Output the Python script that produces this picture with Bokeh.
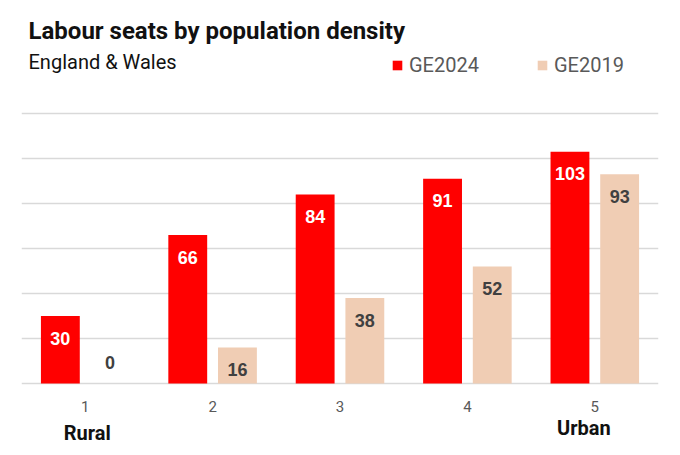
from bokeh.plotting import figure
from bokeh.models import (ColumnDataSource, Label, Legend, LegendItem,
                          FixedTicker, Range1d)
from bokeh.transform import dodge
from bokeh.core.properties import value
from bokeh.embed import file_html
from bokeh.resources import INLINE

# ---- data ----
categories = [1, 2, 3, 4, 5]
tick_labels = ["1", "2", "3", "4", "5"]
ge2024 = [30, 66, 84, 91, 103]
ge2019 = [0, 16, 38, 52, 93]
series_names = ["GE2024", "GE2019"]
end_labels = ["Rural", "Urban"]
grid_values = [0, 20, 40, 60, 80, 100, 120]
title_text = "Labour seats by population density"
subtitle_text = "England & Wales"

RED = "#FF0000"
PEACH = "#F0CDB4"
GRID = "#D9D9D9"
DARK = "#404040"
GRAY = "#595959"

W, H = 672, 447
FRAME_L, FRAME_R = 21, 658
BASE_Y = 383          # pixel row of the zero line
PX_PER_UNIT = 2.25

src = ColumnDataSource(dict(
    x=categories,
    a=ge2024,
    b=ge2019,
    zero=[0] * len(categories),
    ticks=tick_labels,
    a_lab=[str(v) for v in ge2024],
    b_lab=[str(v) for v in ge2019],
    a_off=[22 if v > 0 else -21 for v in ge2024],
    b_off=[22 if v > 0 else -21 for v in ge2019],
))

p = figure(width=W, height=H, output_backend="svg", toolbar_location=None,
           x_range=Range1d(0.5, 5.5),
           y_range=Range1d(-(H - BASE_Y) / PX_PER_UNIT, BASE_Y / PX_PER_UNIT),
           min_border_left=FRAME_L, min_border_right=W - FRAME_R,
           min_border_top=0, min_border_bottom=0,
           outline_line_color=None, background_fill_color="white",
           border_fill_color="white")

p.xaxis.visible = False
p.yaxis.visible = False
p.xgrid.visible = False
p.ygrid.ticker = FixedTicker(ticks=grid_values)
p.ygrid.grid_line_color = GRID
p.ygrid.grid_line_width = 1.6

r1 = p.vbar(x=dodge("x", -0.195, range=p.x_range), top="a", bottom=0, width=0.305,
            source=src, fill_color=RED, line_color=None)
r2 = p.vbar(x=dodge("x", 0.195, range=p.x_range), top="b", bottom=0, width=0.305,
            source=src, fill_color=PEACH, line_color=None)

p.text(x=dodge("x", -0.195, range=p.x_range), y="a", text="a_lab", y_offset="a_off",
       source=src, text_align="center", text_baseline="middle",
       text_font=value("Liberation Sans"), text_font_style="bold",
       text_font_size="18px", text_color="white")
p.text(x=dodge("x", 0.195, range=p.x_range), y="b", text="b_lab", y_offset="b_off",
       source=src, text_align="center", text_baseline="middle",
       text_font=value("Liberation Sans"), text_font_style="bold",
       text_font_size="18px", text_color=DARK)

# category tick labels
p.text(x="x", y="zero", text="ticks", y_offset=23, source=src,
       text_align="center", text_baseline="middle",
       text_font=value("Roboto"), text_font_size="15px", text_color=GRAY)

legend = Legend(items=[LegendItem(label=series_names[0], renderers=[r1]),
                       LegendItem(label=series_names[1], renderers=[r2])],
                location=(370, H - 77), orientation="horizontal",
                glyph_width=12, glyph_height=12, label_standoff=6, spacing=57,
                padding=0, margin=0, border_line_color=None,
                background_fill_alpha=0,
                label_text_font="Roboto", label_text_font_size="20px",
                label_text_color=GRAY)
p.add_layout(legend)

p.add_layout(Label(x=7, y=H - 30, x_units="screen", y_units="screen",
                   text=title_text, text_font="Roboto", text_font_style="bold",
                   text_font_size="24px", text_color="#111111",
                   text_baseline="middle"))
p.add_layout(Label(x=7, y=H - 61, x_units="screen", y_units="screen",
                   text=subtitle_text, text_font="Roboto",
                   text_font_size="20px", text_color="#111111",
                   text_baseline="middle"))

p.add_layout(Label(x=categories[0], y=0, x_units="data", y_units="data",
                   y_offset=-49,
                   text=end_labels[0], text_font="Roboto", text_font_style="bold",
                   text_font_size="20px", text_color="#111111",
                   text_align="center", text_baseline="middle", x_offset=2))
p.add_layout(Label(x=categories[-1], y=0, x_units="data", y_units="data",
                   y_offset=-44,
                   text=end_labels[1], text_font="Roboto", text_font_style="bold",
                   text_font_size="20px", text_color="#111111",
                   text_align="center", text_baseline="middle", x_offset=-11))

open("out.html", "w").write(file_html(p, INLINE))
